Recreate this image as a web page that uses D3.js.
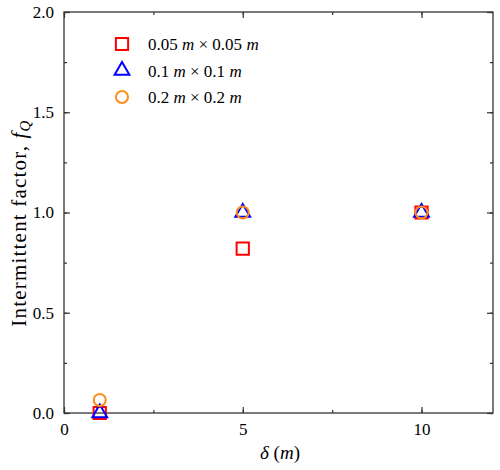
<!DOCTYPE html>
<html>
<head>
<meta charset="utf-8">
<script src="https://cdn.jsdelivr.net/npm/d3@7"></script>
<style>
  body { margin: 0; background: #fff; }
  svg text { font-family: "Times New Roman", "Liberation Serif", Tinos, Times, serif !important; }
</style>
</head>
<body>
<div id="chart"></div>
<script>
const width = 500;
const height = 470;
const marginTop = 12;
const marginRight = 7;
const marginBottom = 57;
const marginLeft = 64;

// data
const deltas = [1, 5, 10];
const fine = [0, 0.82, 1.0];      // 0.05 m x 0.05 m
const medium = [0, 1.0, 1.0];     // 0.1 m x 0.1 m
const coarse = [0.065, 1.0, 1.0]; // 0.2 m x 0.2 m
const xTicks = [0, 5, 10];
const yTicks = [0, 0.5, 1.0, 1.5, 2.0];
const series = [
  {label: ['0.05 ', 'm', ' × 0.05 ', 'm'], values: fine, shape: 'square', color: '#ff0000'},
  {label: ['0.1 ', 'm', ' × 0.1 ', 'm'], values: medium, shape: 'triangle', color: '#0000ff'},
  {label: ['0.2 ', 'm', ' × 0.2 ', 'm'], values: coarse, shape: 'circle', color: '#ff8c1a'}
];

const svg = d3.select('#chart').append('svg')
  .attr('width', width)
  .attr('height', height);

const x = d3.scaleLinear().domain([0, 12]).range([marginLeft, width - marginRight]);
const y = d3.scaleLinear().domain([0, 2]).range([height - marginBottom, marginTop]);

const axisColor = '#333';

// minor + major ticks, inward, all four sides
const xMinor = d3.range(0, 12.01, 2.5);
const yMinor = d3.range(0, 2.01, 0.25);

svg.append('g')
  .attr('transform', `translate(0,${height - marginBottom})`)
  .call(d3.axisBottom(x).tickValues(xMinor).tickSize(-3).tickFormat(''))
  .call(g => g.select('.domain').remove());
svg.append('g')
  .attr('transform', `translate(0,${height - marginBottom})`)
  .call(d3.axisBottom(x).tickValues(xTicks).tickSize(-6).tickPadding(10).tickFormat(d3.format('d')))
  .call(g => g.select('.domain').remove());
svg.append('g')
  .attr('transform', `translate(0,${marginTop})`)
  .call(d3.axisTop(x).tickValues(xMinor).tickSize(-3).tickFormat(''))
  .call(g => g.select('.domain').remove());
svg.append('g')
  .attr('transform', `translate(0,${marginTop})`)
  .call(d3.axisTop(x).tickValues(xTicks).tickSize(-6).tickFormat(''))
  .call(g => g.select('.domain').remove());

svg.append('g')
  .attr('transform', `translate(${marginLeft},0)`)
  .call(d3.axisLeft(y).tickValues(yMinor).tickSize(-3).tickFormat(''))
  .call(g => g.select('.domain').remove());
svg.append('g')
  .attr('transform', `translate(${marginLeft},0)`)
  .call(d3.axisLeft(y).tickValues(yTicks).tickSize(-6).tickPadding(10).tickFormat(d3.format('.1f')))
  .call(g => g.select('.domain').remove());
svg.append('g')
  .attr('transform', `translate(${width - marginRight},0)`)
  .call(d3.axisRight(y).tickValues(yMinor).tickSize(-3).tickFormat(''))
  .call(g => g.select('.domain').remove());
svg.append('g')
  .attr('transform', `translate(${width - marginRight},0)`)
  .call(d3.axisRight(y).tickValues(yTicks).tickSize(-6).tickFormat(''))
  .call(g => g.select('.domain').remove());

svg.selectAll('.tick line').attr('stroke', axisColor).attr('stroke-width', 1.2);
svg.selectAll('.tick text')
  .attr('font-size', 17)
  .attr('fill', '#000');

svg.append('rect')
  .attr('x', marginLeft)
  .attr('y', marginTop)
  .attr('width', width - marginLeft - marginRight)
  .attr('height', height - marginTop - marginBottom)
  .attr('fill', 'none')
  .attr('stroke', axisColor)
  .attr('stroke-width', 1.3);

const symbolFor = {
  square: d3.symbol().type(d3.symbolSquare).size(150),
  triangle: d3.symbol().type(d3.symbolTriangle).size(95),
  circle: d3.symbol().type(d3.symbolCircle).size(113)
};

// points
series.forEach(s => {
  svg.append('g')
    .selectAll('path')
    .data(deltas.map((d, i) => ({x: d, y: s.values[i]})))
    .join('path')
    .attr('transform', d => `translate(${x(d.x)},${y(d.y)})`)
    .attr('d', symbolFor[s.shape]())
    .attr('fill', 'none')
    .attr('stroke', s.color)
    .attr('stroke-width', 2);
});

// legend
const legend = svg.append('g');
series.forEach((s, i) => {
  const ly = 44 + i * 26.5;
  legend.append('path')
    .attr('transform', `translate(122,${ly})`)
    .attr('d', symbolFor[s.shape]())
    .attr('fill', 'none')
    .attr('stroke', s.color)
    .attr('stroke-width', 2);
  const t = legend.append('text')
    .attr('x', 148)
    .attr('y', ly + 6)
    .attr('font-size', 17);
  s.label.forEach((part, j) => {
    t.append('tspan').text(part).attr('font-style', j % 2 ? 'italic' : 'normal');
  });
});

// axis titles
const xt = svg.append('text')
  .attr('x', 280)
  .attr('y', 459)
  .attr('text-anchor', 'middle')
  .attr('font-size', 19);
xt.append('tspan').text('δ').attr('font-style', 'italic');
xt.append('tspan').text(' (');
xt.append('tspan').text('m').attr('font-style', 'italic');
xt.append('tspan').text(')');

const yt = svg.append('text')
  .attr('transform', `translate(26,223) rotate(-90)`)
  .attr('text-anchor', 'middle')
  .attr('font-size', 21)
  .attr('letter-spacing', 1.2);
yt.append('tspan').text('Intermittent factor, ');
yt.append('tspan').text('f').attr('font-style', 'italic');
yt.append('tspan').text('Q').attr('font-style', 'italic').attr('font-size', 15).attr('dy', 4);
</script>
</body>
</html>
